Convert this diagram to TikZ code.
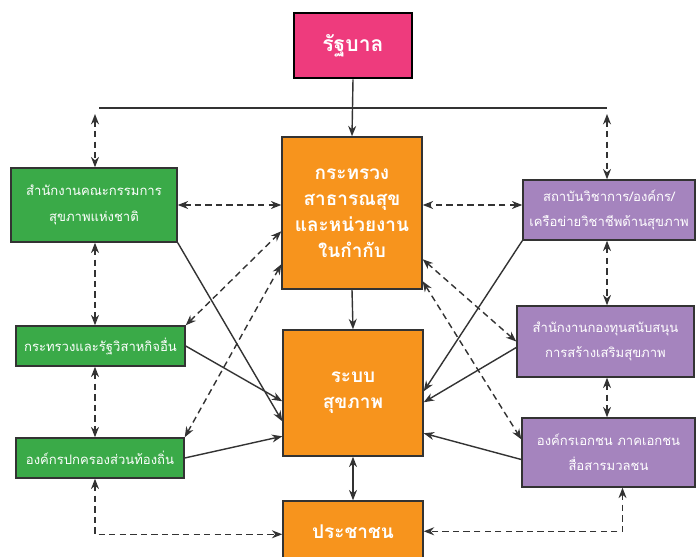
\documentclass[tikz,border=0pt]{standalone}
\usepackage{fontspec}
\setmainfont[Script=Thai]{Loma}
\usetikzlibrary{calc,arrows.meta}
\definecolor{govpink}{HTML}{EE3B7D}
\definecolor{mainorange}{HTML}{F7941D}
\definecolor{sidegreen}{HTML}{3AAA48}
\definecolor{sidepurple}{HTML}{A584BE}
\definecolor{linegray}{HTML}{333333}
\tikzset{
  box/.style={draw=linegray, line width=1pt, text=white, align=center, inner sep=2pt},
  mainbox/.style={box, fill=mainorange, font=\fontsize{13.5}{18.5}\selectfont\bfseries},
  greenbox/.style={box, fill=sidegreen, font=\fontsize{9.3}{18}\selectfont},
  purplebox/.style={box, fill=sidepurple, font=\fontsize{9.3}{18}\selectfont},
  link/.style={draw=linegray, line width=1pt, -{Stealth[length=2.6mm,width=2mm]}},
  dlink/.style={link, {Stealth[length=2.6mm,width=2mm]}-{Stealth[length=2.6mm,width=2mm]}, dash pattern=on 4.5pt off 3pt},
}
\begin{document}
\begin{tikzpicture}[x=0.025cm, y=-0.025cm]
	\useasboundingbox (0,0) rectangle (696,557);
	\node[box, fill=govpink, draw=black, line width=2pt, font=\fontsize{15}{18}\selectfont\bfseries, minimum width=2.95cm, minimum height=1.625cm] (gov) at (353,45.5) {รัฐบาล};
	\node[mainbox, minimum width=3.5cm, minimum height=3.8cm] (moph) at (352,213) {กระทรวง\\สาธารณสุข\\และหน่วยงาน\\ในกำกับ};
	\node[mainbox, minimum width=3.5cm, minimum height=3.15cm] (sys) at (353,393) {ระบบ\\สุขภาพ};
	\node[mainbox, minimum width=3.5cm, minimum height=1.55cm] (people) at (353,532) {ประชาชน};
	\node[greenbox, minimum width=4.15cm, minimum height=1.85cm] (nhco) at (94,205) {สำนักงานคณะกรรมการ\\สุขภาพแห่งชาติ};
	\node[greenbox, minimum width=4.225cm, minimum height=1cm] (minis) at (100.5,346) {กระทรวงและรัฐวิสาหกิจอื่น};
	\node[greenbox, minimum width=4.2cm, minimum height=1cm] (local) at (100,458) {องค์กรปกครองส่วนท้องถิ่น};
	\node[purplebox, minimum width=4.3cm, minimum height=1.5cm] (acad) at (609,210) {สถาบันวิชาการ/องค์กร/\\เครือข่ายวิชาชีพด้านสุขภาพ};
	\node[purplebox, minimum width=4.425cm, minimum height=1.775cm] (fund) at (605.5,341.5) {สำนักงานกองทุนสนับสนุน\\การสร้างเสริมสุขภาพ};
	\node[purplebox, minimum width=4.325cm, minimum height=1.725cm] (ngo) at (608.5,452.5) {องค์กรเอกชน ภาคเอกชน\\สื่อสารมวลชน};
	\coordinate (busL) at (99,108);
	\coordinate (busR) at (607,108);
	\coordinate (busLtip) at (95,114);
	\coordinate (busRtip) at (607,114);
	\draw[draw=linegray, line width=1pt] (busL) -- (busR);
	\draw[link] (gov.south) -- (moph.north);
	\draw[link] (moph.south) -- (sys.north);
	\draw[link, {Stealth[length=2.6mm,width=2mm]}-{Stealth[length=2.6mm,width=2mm]}] (sys.south) -- (people.north);
	\draw[link] (nhco.south east) -- ($(sys.north west)+(0,92)$);
	\draw[link] (minis.east) -- ($(sys.north west)+(0,72)$);
	\draw[link] (local.east) -- ($(sys.north west)+(0,107)$);
	\draw[link] (acad.south west) -- ($(sys.north east)+(0,62)$);
	\draw[link] ($(fund.west)+(0,6)$) -- ($(sys.north east)+(0,73)$);
	\draw[link] ($(ngo.west)+(0,7)$) -- ($(sys.north east)+(0,104)$);
	\draw[dlink] (busLtip) -- (busLtip |- nhco.north);
	\draw[dlink] (busRtip) -- (busRtip |- acad.north);
	\draw[dlink] (busLtip |- nhco.south) -- (busLtip |- minis.north);
	\draw[dlink] (busLtip |- minis.south) -- (busLtip |- local.north);
	\draw[dlink] (busLtip |- local.south) |- ($(people.north west)+(0,34)$);
	\draw[dlink] (busRtip |- acad.south) -- (busRtip |- fund.north);
	\draw[dlink] (busRtip |- fund.south) -- (busRtip |- ngo.north);
	\draw[dlink] ($(ngo.south)+(14,0)$) |- ($(people.north east)+(0,31)$);
	\draw[dlink] (nhco.east) -- (nhco.east -| moph.west);
	\draw[dlink] (acad.west |- nhco.east) -- (moph.east |- nhco.east);
	\draw[dlink] (minis.north east) -- ($(moph.north west)+(0,95)$);
	\draw[dlink] (local.north east) -- ($(moph.north west)+(0,128)$);
	\draw[dlink] ($(moph.north east)+(0,123)$) -- (fund.west);
	\draw[dlink] ($(moph.north east)+(0,145)$) -- ($(ngo.north west)+(0,22)$);
\end{tikzpicture}
\end{document}
